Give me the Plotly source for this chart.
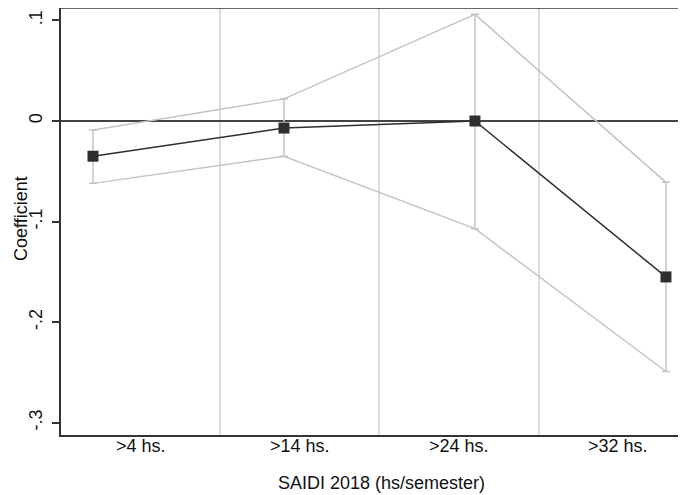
import plotly.graph_objects as go

categories = [">4 hs.", ">14 hs.", ">24 hs.", ">32 hs."]
coef = [-0.035, -0.007, 0.000, -0.155]
ci_upper = [-0.009, 0.022, 0.106, -0.061]
ci_lower = [-0.062, -0.035, -0.107, -0.249]
ytick_vals = [0.1, 0.0, -0.1, -0.2, -0.3]
ytick_text = [".1", "0", "-.1", "-.2", "-.3"]
x_title = "SAIDI 2018 (hs/semester)"
y_title = "Coefficient"

pos = [i + 1 for i in range(len(categories))]
err_plus = [u - c for u, c in zip(ci_upper, coef)]
err_minus = [c - l for c, l in zip(coef, ci_lower)]
mids = [p + 0.5 for p in pos[:-1]]

FONT = "Liberation Sans, Arial, sans-serif"
CI_COLOR = "#c4c4c4"
GRID_COLOR = "#dcdcdc"
DARK = "#2e2e2e"

fig = go.Figure()
# dummy trace for the label axis
fig.add_trace(go.Scatter(x=pos, y=coef, xaxis="x2", yaxis="y", mode="markers",
                         marker=dict(opacity=0), hoverinfo="skip", showlegend=False))
# CI connecting lines
fig.add_trace(go.Scatter(x=pos, y=ci_upper, mode="lines",
                         line=dict(color=CI_COLOR, width=1.5), showlegend=False))
fig.add_trace(go.Scatter(x=pos, y=ci_lower, mode="lines",
                         line=dict(color=CI_COLOR, width=1.5), showlegend=False))
# CI caps
fig.add_trace(go.Scatter(x=pos, y=coef, mode="markers", marker=dict(opacity=0),
                         error_y=dict(type="data", array=err_plus, arrayminus=err_minus,
                                      color=CI_COLOR, thickness=1.5, width=4),
                         showlegend=False))
# coefficients
fig.add_trace(go.Scatter(x=pos, y=coef, mode="lines+markers",
                         line=dict(color=DARK, width=1.5),
                         marker=dict(symbol="square", size=11, color=DARK),
                         showlegend=False))

cat_labels = [
    dict(text=c, xref="x2", yref="paper", x=p, y=-0.0258, xanchor="center",
         yanchor="middle", showarrow=False, font=dict(size=18))
    for c, p in zip(categories, pos)
]

fig.update_layout(
    width=678, height=487,
    margin=dict(l=53, r=0, t=0, b=60, autoexpand=False),
    paper_bgcolor="white", plot_bgcolor="white",
    font=dict(family=FONT, size=18, color="#111"),
    xaxis=dict(range=[0.8325, 4.105], showgrid=False, showline=False, zeroline=False,
               showticklabels=False, ticks=""),
    xaxis2=dict(overlaying="x", anchor="y", side="bottom", range=[0.501, 4.424],
                tickmode="array", tickvals=pos, ticktext=categories, ticks="", ticklen=0,
                showticklabels=False,
                showgrid=False, zeroline=False, showline=True, linecolor="#333", linewidth=1.5,
                minor=dict(tickmode="array", tickvals=mids, showgrid=True,
                           gridcolor=GRID_COLOR, gridwidth=1.5, ticks=""),
                automargin=False),
    yaxis=dict(range=[-0.31213, 0.11233], tickmode="array", tickvals=ytick_vals,
               ticktext=ytick_text, tickangle=-90, ticks="outside", ticklen=7,
               tickwidth=1.5, tickcolor="#333", showgrid=False, showline=True,
               linecolor="#333", linewidth=1.5, zeroline=True, zerolinecolor="#444",
               zerolinewidth=1.5, tickfont=dict(size=18), ticklabelstandoff=3,
               automargin=False),
    shapes=[dict(type="line", xref="paper", yref="paper", x0=0, x1=1, y0=1, y1=1,
                 line=dict(color="#333", width=1.5))],
    annotations=cat_labels + [
        dict(text=x_title, xref="paper", yref="paper", x=0.512, y=-0.1124,
             xanchor="center", yanchor="middle", showarrow=False, font=dict(size=18)),
        dict(text=y_title, xref="paper", yref="paper", x=-0.064, y=0.5059,
             xanchor="center", yanchor="middle", textangle=-90, showarrow=False,
             font=dict(size=18)),
    ],
)

fig.write_html("out.html")
